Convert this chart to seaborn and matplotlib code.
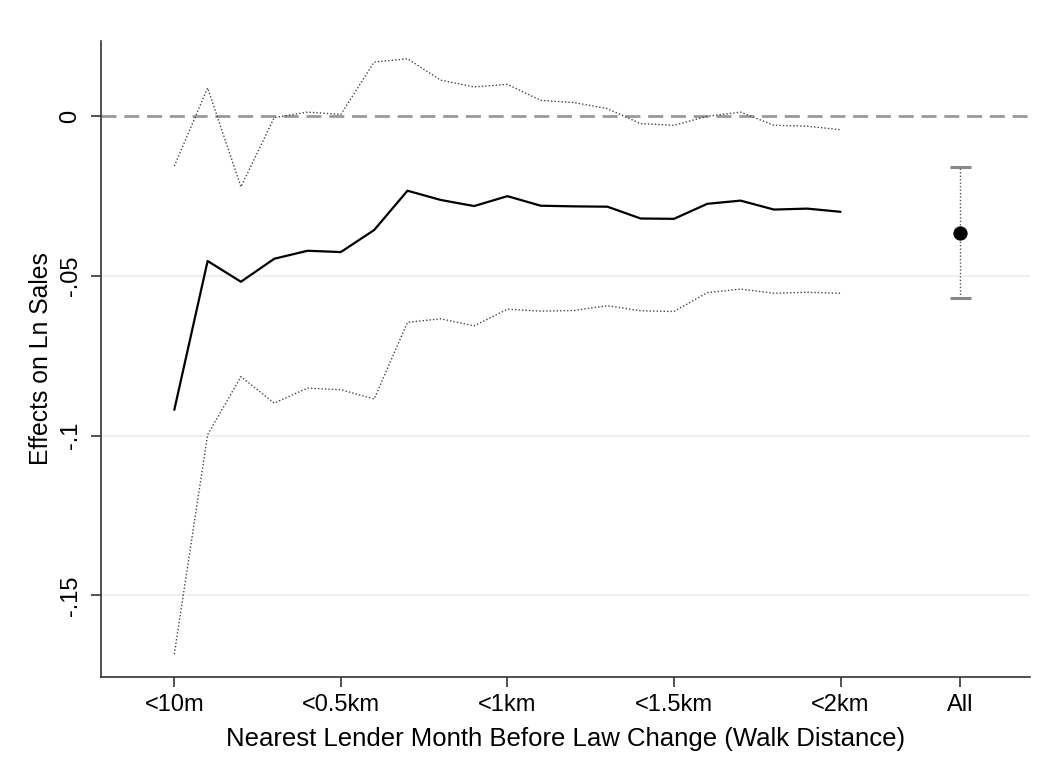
import matplotlib
matplotlib.use("Agg")
import matplotlib.pyplot as plt
import seaborn as sns
import pandas as pd
import numpy as np

# distance bins: <10m, then 0.1km steps up to <2km
dist_km = [0.01, 0.1, 0.2, 0.3, 0.4, 0.5, 0.6, 0.7, 0.8, 0.9, 1.0,
           1.1, 1.2, 1.3, 1.4, 1.5, 1.6, 1.7, 1.8, 1.9, 2.0]
coef = [-0.0919, -0.0453, -0.0518, -0.0446, -0.0421, -0.0425, -0.0356,
        -0.0233, -0.0262, -0.0281, -0.0250, -0.0280, -0.0282, -0.0283,
        -0.0320, -0.0321, -0.0274, -0.0264, -0.0292, -0.0289, -0.0299]
ci_upper = [-0.0156, 0.0089, -0.0221, -0.0004, 0.0013, 0.0006, 0.0170,
            0.0180, 0.0113, 0.0092, 0.0100, 0.0050, 0.0043, 0.0024,
            -0.0023, -0.0028, 0.0000, 0.0013, -0.0028, -0.0031, -0.0042]
ci_lower = [-0.1684, -0.0997, -0.0815, -0.0898, -0.0851, -0.0856, -0.0885,
            -0.0645, -0.0634, -0.0656, -0.0604, -0.0610, -0.0608, -0.0593,
            -0.0609, -0.0611, -0.0552, -0.0541, -0.0554, -0.0551, -0.0554]

# pooled estimate ("All")
all_coef = -0.0365
all_upper = -0.0160
all_lower = -0.0570

tick_labels = ["<10m", "<0.5km", "<1km", "<1.5km", "<2km", "All"]
yticks = [0, -0.05, -0.1, -0.15]
ytick_labels = ["0", "-.05", "-.1", "-.15"]

df = pd.DataFrame({"pos": np.arange(len(dist_km)), "km": dist_km,
                   "coef": coef, "upper": ci_upper, "lower": ci_lower})
all_pos = 23.6

sns.set_style("white")
plt.rcParams["font.family"] = ["Liberation Sans", "DejaVu Sans"]
plt.rcParams["text.color"] = "black"
plt.rcParams["axes.labelcolor"] = "black"
plt.rcParams["xtick.color"] = "black"
plt.rcParams["ytick.color"] = "black"

fig = plt.figure(figsize=(10.49, 7.78), dpi=100)
ax = fig.add_axes([0.0963, 0.130, 0.886, 0.817])

# light grid lines
for y in yticks[1:]:
    ax.axhline(y, color="#e8eeee", lw=1.2, zorder=0)
ax.axhline(0, color="#999999", lw=2, ls=(0, (5.4, 2.8)), zorder=1)

dot = (0, (1, 1.5))
sns.lineplot(data=df, x="pos", y="upper", ax=ax, color="#444444", lw=1.0,
             linestyle=dot, zorder=2)
sns.lineplot(data=df, x="pos", y="lower", ax=ax, color="#444444", lw=1.0,
             linestyle=dot, zorder=2)
sns.lineplot(data=df, x="pos", y="coef", ax=ax, color="black", lw=1.6, zorder=3)

# pooled estimate with CI
ax.vlines(all_pos, all_lower, all_upper, color="#555555", lw=1.0,
          linestyles=dot, zorder=2)
ax.hlines([all_lower, all_upper], all_pos - 0.32, all_pos + 0.32,
          color="#888888", lw=2.2, zorder=2)
sns.scatterplot(x=[all_pos], y=[all_coef], ax=ax, color="black", s=90,
                edgecolor="black", zorder=4)

ax.set_xlim(-2.2, 25.7)
ax.set_ylim(-0.1755, 0.0235)
ax.set_xticks([0, 5, 10, 15, 20, all_pos])
ax.set_xticklabels(tick_labels)
ax.set_yticks(yticks)
ax.set_yticklabels(ytick_labels, rotation=90, va="center")

ax.tick_params(axis="both", direction="out", length=7, width=1.2,
               color="#333333", labelcolor="black", labelsize=17,
               bottom=True, left=True)
ax.tick_params(axis="x", pad=5)
ax.tick_params(axis="y", pad=7)
for side in ["top", "right"]:
    ax.spines[side].set_visible(False)
for side in ["left", "bottom"]:
    ax.spines[side].set_color("#333333")
    ax.spines[side].set_linewidth(1.2)

ax.set_xlabel("Nearest Lender Month Before Law Change (Walk Distance)",
              fontsize=18.5, labelpad=8)
ax.set_ylabel("Effects on Ln Sales", fontsize=17.8, labelpad=5)

fig.savefig("out.png", dpi=100)
